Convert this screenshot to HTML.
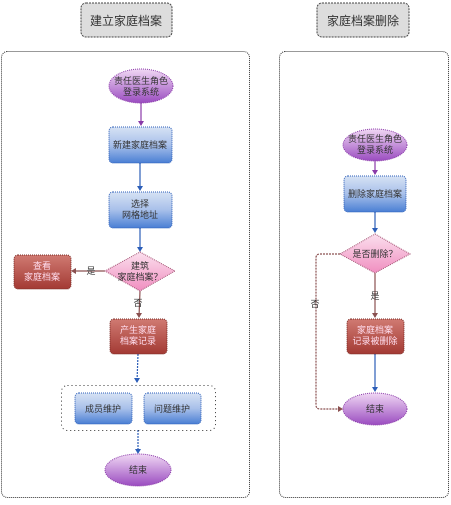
<!DOCTYPE html>
<html><head><meta charset="utf-8"><style>
body{margin:0;background:#fff;}
svg text{font-family:"Liberation Sans","Noto Sans CJK SC",sans-serif;font-size:9px;text-anchor:middle;}
</style></head><body>
<svg width="451" height="500" xmlns="http://www.w3.org/2000/svg">
<defs>
<linearGradient id="pu" x1="0" y1="0" x2="0" y2="1"><stop offset="0" stop-color="#f0d8f4"/><stop offset="1" stop-color="#9a4cc0"/></linearGradient>
<linearGradient id="bl" x1="0" y1="0" x2="0" y2="1"><stop offset="0" stop-color="#d6e2f4"/><stop offset="0.5" stop-color="#a8c0ea"/><stop offset="1" stop-color="#4a7fd4"/></linearGradient>
<linearGradient id="rd" x1="0" y1="0" x2="0" y2="1"><stop offset="0" stop-color="#d07a72"/><stop offset="1" stop-color="#a33a34"/></linearGradient>
<linearGradient id="pk" x1="0" y1="0" x2="0" y2="1"><stop offset="0" stop-color="#fbe0ee"/><stop offset="1" stop-color="#f08ec0"/></linearGradient>
<marker id="ab" markerWidth="6" markerHeight="6" refX="3" refY="5" orient="auto"><path d="M0,0 L6,0 L3,6z" fill="#2c5eb8" transform="rotate(-90 3 3)"/></marker>
</defs>
<!-- titles -->
<rect x="81" y="3" width="91" height="34" rx="5" fill="#ddd" stroke="#444" stroke-dasharray="2,1"/>
<text x="126" y="25" style="font-size:12px" fill="#333">建立家庭档案</text>
<rect x="317" y="3" width="92" height="34" rx="5" fill="#ddd" stroke="#444" stroke-dasharray="2,1"/>
<text x="363" y="25" style="font-size:12px" fill="#333">家庭档案删除</text>
<!-- containers -->
<rect x="1.5" y="51.5" width="248" height="446" rx="6" fill="none" stroke="#333" stroke-dasharray="1,1"/>
<rect x="279.5" y="51.5" width="169" height="446" rx="6" fill="none" stroke="#333" stroke-dasharray="1,1"/>
<!-- left connectors -->
<g fill="none" stroke-width="1.2">
<line x1="141" y1="102" x2="141" y2="125" stroke="#8a3aa8"/>
<line x1="140" y1="163" x2="140" y2="190" stroke="#2c5eb8"/>
<line x1="140" y1="228" x2="140" y2="250" stroke="#2c5eb8"/>
<line x1="105" y1="271" x2="73" y2="271" stroke="#8a5050"/>
<line x1="140" y1="291" x2="139" y2="317" stroke="#8a5050"/>
<line x1="138" y1="354" x2="137" y2="382" stroke="#2c5eb8" stroke-dasharray="2,1"/>
<line x1="138" y1="430" x2="138" y2="452" stroke="#2c5eb8" stroke-dasharray="2,1"/>
<line x1="375" y1="161" x2="375" y2="174" stroke="#8a3aa8"/>
<line x1="375" y1="212" x2="375" y2="231" stroke="#2c5eb8"/>
<line x1="375" y1="273" x2="375" y2="317" stroke="#8a5050"/>
<line x1="375" y1="354" x2="375" y2="391" stroke="#2c5eb8"/>
<path d="M340 254 H320 Q316 254 316 258 V405 Q316 409 320 409 H340" stroke="#8a5050" stroke-dasharray="2,1"/>
</g>
<g>
<path d="M138,121 h6 l-3,5z" fill="#8a3aa8"/>
<path d="M137,186 h6 l-3,5z" fill="#2c5eb8"/>
<path d="M137,247 h6 l-3,5z" fill="#2c5eb8"/>
<path d="M76,268 v6 l-5,-3z" fill="#8a5050"/>
<path d="M136,313 h6 l-3,5z" fill="#8a5050"/>
<path d="M134,378 h6 l-3,5z" fill="#2c5eb8"/>
<path d="M135,449 h6 l-3,5z" fill="#2c5eb8"/>
<path d="M372,170 h6 l-3,5z" fill="#8a3aa8"/>
<path d="M372,228 h6 l-3,5z" fill="#2c5eb8"/>
<path d="M372,313 h6 l-3,5z" fill="#8a5050"/>
<path d="M372,387 h6 l-3,5z" fill="#2c5eb8"/>
<path d="M338,406 v6 l5,-3z" fill="#8a5050"/>
</g>
<!-- left nodes -->
<ellipse cx="141" cy="86" rx="32" ry="17" fill="url(#pu)" stroke="#8a3aa8" stroke-dasharray="1,1"/>
<text x="141" y="84" fill="#333">责任医生角色</text><text x="141" y="95" fill="#333">登录系统</text>
<rect x="109" y="127" width="63" height="36" rx="4" fill="url(#bl)" stroke="#2c5eb8" stroke-dasharray="1,1"/>
<text x="140" y="148" fill="#333">新建家庭档案</text>
<rect x="109" y="192" width="63" height="36" rx="4" fill="url(#bl)" stroke="#2c5eb8" stroke-dasharray="1,1"/>
<text x="140" y="207" fill="#333">选择</text><text x="140" y="218" fill="#333">网格地址</text>
<path d="M140,252 L175,271 L140,291 L105,271z" fill="url(#pk)" stroke="#a05070" stroke-dasharray="1,1"/>
<text x="140" y="269" fill="#333">建筑</text><text x="140" y="280" fill="#333">家庭档案？</text>
<rect x="14" y="255" width="57" height="34" rx="4" fill="url(#rd)" stroke="#7a2a24" stroke-dasharray="1,1"/>
<text x="42" y="269" fill="#fde">查看</text><text x="42" y="280" fill="#fde">家庭档案</text>
<text x="91" y="274" fill="#333">是</text>
<text x="138" y="306" fill="#333">否</text>
<rect x="110" y="319" width="57" height="35" rx="4" fill="url(#rd)" stroke="#7a2a24" stroke-dasharray="1,1"/>
<text x="138" y="333" fill="#fde">产生家庭</text><text x="138" y="344" fill="#fde">档案记录</text>
<rect x="61.5" y="385.5" width="154" height="45" rx="6" fill="none" stroke="#333" stroke-dasharray="1,3"/>
<rect x="75" y="393" width="57" height="31" rx="4" fill="url(#bl)" stroke="#2c5eb8" stroke-dasharray="1,1"/>
<text x="103" y="412" fill="#333">成员维护</text>
<rect x="144" y="393" width="57" height="31" rx="4" fill="url(#bl)" stroke="#2c5eb8" stroke-dasharray="1,1"/>
<text x="172" y="412" fill="#333">问题维护</text>
<ellipse cx="138" cy="470" rx="33" ry="16" fill="url(#pu)" stroke="#8a3aa8" stroke-dasharray="1,1"/>
<text x="138" y="473" fill="#333">结束</text>
<!-- right nodes -->
<ellipse cx="375" cy="145" rx="32" ry="16" fill="url(#pu)" stroke="#8a3aa8" stroke-dasharray="1,1"/>
<text x="375" y="142" fill="#333">责任医生角色</text><text x="375" y="153" fill="#333">登录系统</text>
<rect x="344" y="176" width="62" height="36" rx="4" fill="url(#bl)" stroke="#2c5eb8" stroke-dasharray="1,1"/>
<text x="375" y="197" fill="#333">删除家庭档案</text>
<path d="M375,234 L410,254 L375,273 L340,254z" fill="url(#pk)" stroke="#a05070" stroke-dasharray="1,1"/>
<text x="375" y="257" fill="#333">是否删除？</text>
<text x="375" y="299" fill="#333">是</text>
<text x="315" y="307" fill="#333">否</text>
<rect x="347" y="319" width="57" height="35" rx="4" fill="url(#rd)" stroke="#7a2a24" stroke-dasharray="1,1"/>
<text x="375" y="333" fill="#fde">家庭档案</text><text x="375" y="344" fill="#fde">记录被删除</text>
<ellipse cx="375" cy="409" rx="32" ry="16" fill="url(#pu)" stroke="#8a3aa8" stroke-dasharray="1,1"/>
<text x="375" y="412" fill="#333">结束</text>
</svg>
</body></html>
